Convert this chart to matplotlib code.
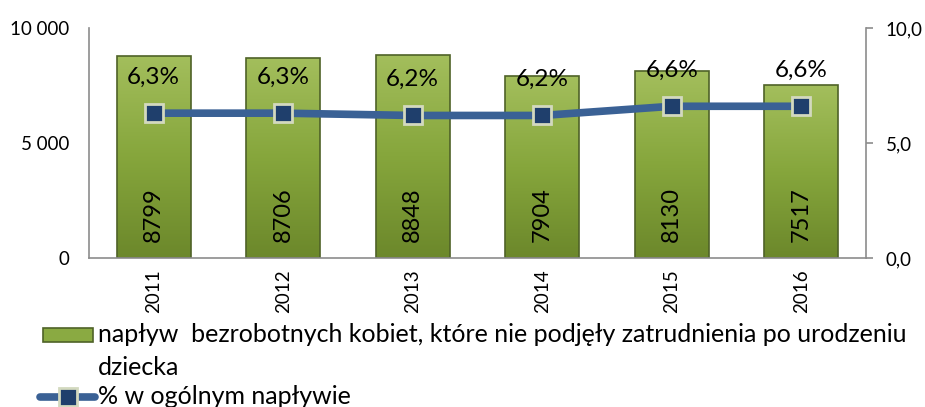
import numpy as np
import matplotlib
matplotlib.use('Agg')
import matplotlib.pyplot as plt
from matplotlib.patches import Rectangle
from matplotlib.lines import Line2D
from matplotlib.colors import LinearSegmentedColormap

plt.rcParams['font.family'] = ['Lato', 'DejaVu Sans']

years = ['2011', '2012', '2013', '2014', '2015', '2016']
inflow = [8799, 8706, 8848, 7904, 8130, 7517]
share = [6.3, 6.3, 6.2, 6.2, 6.6, 6.6]
share_labels = ['6,3%', '6,3%', '6,2%', '6,2%', '6,6%', '6,6%']
left_ticks = [0, 5000, 10000]
left_ticklabels = ['0', '5 000', '10 000']
right_ticks = [0, 5, 10]
right_ticklabels = ['0,0', '5,0', '10,0']
bar_label = 'napływ  bezrobotnych kobiet, które nie podjęły zatrudnienia po urodzeniu\ndziecka'
line_label = '% w ogólnym napływie'

bar_color = '#7f9f38'
bar_edge = '#4f6228'
line_color = '#3a6195'
grey = '#8c8c8c'
green_cmap = LinearSegmentedColormap.from_list('g', ['#6c882b', '#86a63c', '#a3be5c'])

fig = plt.figure(figsize=(9.25, 4.07), dpi=100)
ax = fig.add_axes([0.0962, 0.366, 0.8400, 0.565])
x = np.arange(len(years))

bars = ax.bar(x, inflow, width=0.57, color=bar_color, linewidth=0, zorder=2)
grad = np.linspace(0, 1, 100).reshape(-1, 1)
for b in bars:
    x0, y0 = b.get_x(), b.get_y()
    im = ax.imshow(grad, cmap=green_cmap, origin='lower', aspect='auto',
                   extent=[x0, x0 + b.get_width(), y0, y0 + b.get_height()], zorder=2.2)
    im.set_clip_path(b)
ax.bar(x, inflow, width=0.57, fill=False, edgecolor=bar_edge, linewidth=1.2, zorder=2.4)
for xi, v in zip(x, inflow):
    ax.text(xi, 1900, str(v), rotation=90, ha='center', va='center', fontsize=17, zorder=3)

ax.set_xlim(-0.5, len(years) - 0.5)
ax.set_ylim(0, 10000)
ax.set_yticks(left_ticks)
ax.set_yticklabels(left_ticklabels)
ax.set_xticks(x)
ax.set_xticklabels(years, rotation=90)
ax.tick_params(axis='both', length=0, labelsize=13.5, pad=8)
ax.tick_params(axis='y', pad=14)
for s in ['top', 'right']:
    ax.spines[s].set_visible(False)
for s in ['left', 'bottom']:
    ax.spines[s].set_color(grey)
    ax.spines[s].set_linewidth(1.2)

ax2 = ax.twinx()
ax2.plot(x, share, color=line_color, linewidth=5.5, marker='s', markersize=13,
         markerfacecolor='#1f3f6c', markeredgecolor='#d3d9bf', markeredgewidth=2, zorder=4)
for xi, v, lab in zip(x, share, share_labels):
    ax2.annotate(lab, (xi, v), xytext=(0, 26), textcoords='offset points',
                 ha='center', va='center', fontsize=17.5)
ax2.set_ylim(0, 10)
ax2.set_yticks(right_ticks)
ax2.set_yticklabels(right_ticklabels)
ax2.tick_params(axis='y', length=5, color=grey, width=1.2, labelsize=13.5, pad=9)
for s in ['top', 'left', 'bottom']:
    ax2.spines[s].set_visible(False)
ax2.spines['right'].set_color(grey)
ax2.spines['right'].set_linewidth(1.2)

# legend drawn by hand to get the wrapped first entry
fig.add_artist(Rectangle((0.046, 0.159), 0.055, 0.035, transform=fig.transFigure,
                         facecolor='#8aaa42', edgecolor=bar_edge, linewidth=1.2))
fig.text(0.106, 0.177, bar_label.split('\n')[0], fontsize=18, va='center')
fig.text(0.106, 0.098, bar_label.split('\n')[1], fontsize=18, va='center')
fig.add_artist(Line2D([0.043, 0.103], [0.025, 0.025], transform=fig.transFigure,
                      color=line_color, linewidth=5.5, solid_capstyle='round'))
fig.add_artist(Line2D([0.074], [0.025], transform=fig.transFigure, marker='s',
                      markersize=13, markerfacecolor='#1f3f6c', markeredgecolor='#d3d9bf',
                      markeredgewidth=2, linestyle='none'))
fig.text(0.106, 0.025, line_label, fontsize=18, va='center')

fig.savefig('out.png', dpi=100)
